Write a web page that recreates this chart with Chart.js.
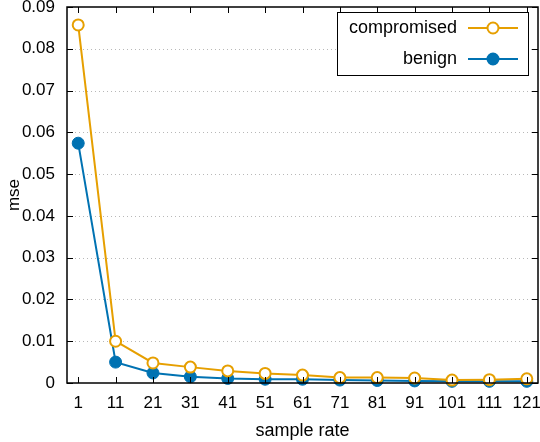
<!DOCTYPE html>
<html>
<head>
<meta charset="utf-8">
<script src="https://cdn.jsdelivr.net/npm/chart.js@4"></script>
<style>
  html, body { margin: 0; padding: 0; background: #fff; }
  #wrap { width: 540px; height: 442px; }
</style>
</head>
<body>
<div id="wrap"><canvas id="lineChart" width="540" height="442"></canvas></div>
<script>
// sample rates (x axis) and mse per series
const sampleRates = [1, 11, 21, 31, 41, 51, 61, 71, 81, 91, 101, 111, 121];
const compromised = [0.0857, 0.0100, 0.0048, 0.0038, 0.0029, 0.0023, 0.0019, 0.0013, 0.0013, 0.0012, 0.0007, 0.0008, 0.0010];
const benign = [0.0574, 0.0050, 0.0024, 0.0015, 0.0011, 0.0009, 0.0009, 0.0007, 0.0006, 0.0005, 0.0004, 0.0004, 0.0004];
const yTicks = [0, 0.01, 0.02, 0.03, 0.04, 0.05, 0.06, 0.07, 0.08, 0.09];

const orange = '#E69F00';
const blue = '#0072B2';
const font = "'Liberation Sans', Arial, sans-serif";

// dotted grid, frame, inner tick marks and gnuplot-like legend
const framePlugin = {
  id: 'frame',
  beforeDatasetsDraw(chart) {
    const ctx = chart.ctx;
    const a = chart.chartArea;
    const ys = chart.scales.y;
    ctx.save();
    ctx.strokeStyle = '#b8b8b8';
    ctx.lineWidth = 1;
    ctx.setLineDash([1, 3]);
    ctx.beginPath();
    yTicks.slice(1, -1).forEach(v => {
      const py = Math.round(ys.getPixelForValue(v)) + 0.5;
      ctx.moveTo(a.left, py); ctx.lineTo(a.right, py);
    });
    ctx.stroke();
    ctx.restore();
  },
  afterDatasetsDraw(chart) {
    const ctx = chart.ctx;
    const a = chart.chartArea;
    const xs = chart.scales.x, ys = chart.scales.y;
    ctx.save();
    ctx.strokeStyle = '#000';
    ctx.lineWidth = 1;
    const len = 6;
    ctx.beginPath();
    sampleRates.forEach(v => {
      const px = Math.round(xs.getPixelForValue(v)) + 0.5;
      ctx.moveTo(px, a.bottom); ctx.lineTo(px, a.bottom - len);
      ctx.moveTo(px, a.top); ctx.lineTo(px, a.top + len);
    });
    yTicks.forEach(v => {
      const py = Math.round(ys.getPixelForValue(v)) + 0.5;
      ctx.moveTo(a.left, py); ctx.lineTo(a.left + len, py);
      ctx.moveTo(a.right, py); ctx.lineTo(a.right - len, py);
    });
    ctx.stroke();

    ctx.lineWidth = 1.5;
    ctx.strokeRect(a.left, a.top, a.right - a.left, a.bottom - a.top);

    // legend
    const bx = 337, by = 12, bw = 191, bh = 63;
    ctx.fillStyle = '#fff';
    ctx.fillRect(bx, by, bw, bh);
    ctx.lineWidth = 1;
    ctx.strokeStyle = '#000';
    ctx.strokeRect(bx + 0.5, by + 0.5, bw, bh);
    ctx.font = '18px ' + font;
    ctx.textAlign = 'right';
    ctx.textBaseline = 'middle';
    chart.data.datasets.forEach((ds, i) => {
      const y = by + 16 + i * 31;
      ctx.fillStyle = '#000';
      ctx.fillText(ds.label, bx + 120, y);
      ctx.strokeStyle = ds.borderColor;
      ctx.lineWidth = 2;
      ctx.beginPath();
      ctx.moveTo(bx + 131, y); ctx.lineTo(bx + 181, y);
      ctx.stroke();
      ctx.beginPath();
      ctx.arc(bx + 156, y, 5.5, 0, Math.PI * 2);
      ctx.fillStyle = ds.pointBackgroundColor;
      ctx.fill();
      ctx.stroke();
    });
    ctx.restore();
  }
};

const ctx = document.getElementById('lineChart').getContext('2d');
const lineChart = new Chart(ctx, {
  type: 'line',
  data: {
    datasets: [{
      label: 'compromised',
      data: sampleRates.map((x, i) => ({ x: x, y: compromised[i] })),
      borderColor: orange,
      backgroundColor: orange,
      pointBackgroundColor: '#fff',
      pointBorderColor: orange,
      pointBorderWidth: 2,
      pointRadius: 5.5,
      borderWidth: 2,
      tension: 0
    }, {
      label: 'benign',
      data: sampleRates.map((x, i) => ({ x: x, y: benign[i] })),
      borderColor: blue,
      backgroundColor: blue,
      pointBackgroundColor: blue,
      pointBorderColor: blue,
      pointBorderWidth: 1,
      pointRadius: 6,
      borderWidth: 2,
      tension: 0
    }]
  },
  options: {
    responsive: false,
    animation: false,
    clip: false,
    layout: { autoPadding: false, padding: { top: 7, right: 2, left: 0, bottom: 0 } },
    plugins: {
      legend: { display: false },
      tooltip: { enabled: false }
    },
    scales: {
      x: {
        type: 'linear',
        min: -2,
        max: 124,
        afterBuildTicks: scale => { scale.ticks = sampleRates.map(v => ({ value: v })); },
        afterFit: scale => { scale.height = 59; scale.paddingLeft = 0; scale.paddingRight = 0; },
        grid: { display: false, drawTicks: false },
        border: { display: false },
        ticks: { color: '#000', padding: 10, font: { family: font, size: 17 }, maxRotation: 0, autoSkip: false },
        title: { display: true, text: 'sample rate', color: '#000', padding: { top: 1, bottom: 0 }, font: { family: font, size: 18 } }
      },
      y: {
        min: 0,
        max: 0.09,
        afterBuildTicks: scale => { scale.ticks = yTicks.map(v => ({ value: v })); },
        afterFit: scale => { scale.width = 67; scale.paddingTop = 0; scale.paddingBottom = 0; },
        grid: { display: false, drawTicks: false },
        border: { display: false },
        ticks: {
          color: '#000', padding: 12, font: { family: font, size: 17 },
          callback: v => String(Math.round(v * 100) / 100)
        },
        title: { display: true, text: 'mse', color: '#000', padding: { top: 4, bottom: 0 }, font: { family: font, size: 17 } }
      }
    }
  },
  plugins: [framePlugin]
});
</script>
</body>
</html>
